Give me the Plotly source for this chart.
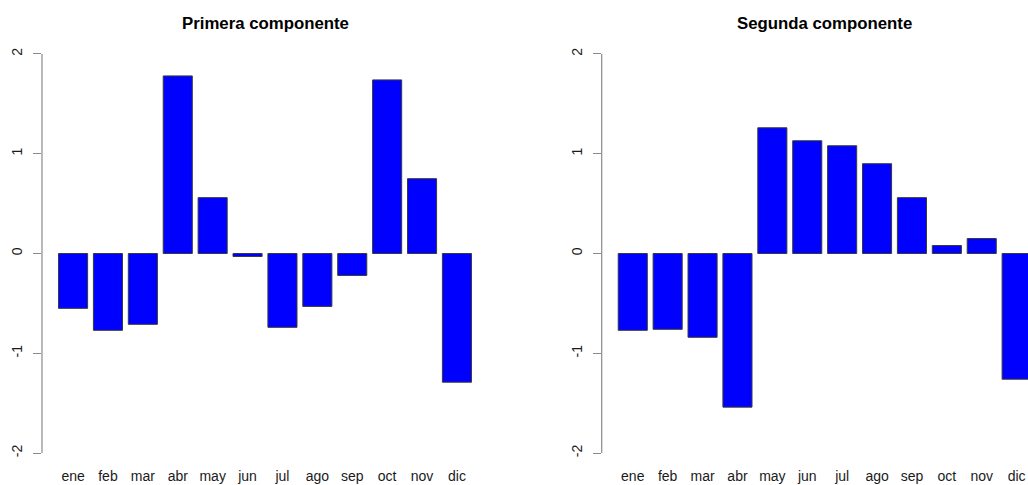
import plotly.graph_objects as go
from plotly.subplots import make_subplots

# Monthly loadings of the first two principal components
meses = ["ene", "feb", "mar", "abr", "may", "jun", "jul", "ago", "sep", "oct", "nov", "dic"]
primera = [-0.55, -0.77, -0.71, 1.78, 0.56, -0.03, -0.74, -0.53, -0.22, 1.74, 0.75, -1.29]
segunda = [-0.77, -0.76, -0.84, -1.54, 1.26, 1.13, 1.08, 0.90, 0.56, 0.08, 0.15, -1.26]
titulos = ["Primera componente", "Segunda componente"]
y_ticks = [-2, -1, 0, 1, 2]

W, H = 1028, 485
BLUE = "#0000FF"
EDGE = "#3a3a3a"
AXIS = "#8a8a8a"
FONT = "Liberation Sans, Arial, Helvetica, sans-serif"

fig = make_subplots(rows=1, cols=2)

for i, vals in enumerate([primera, segunda], start=1):
    fig.add_trace(
        go.Bar(
            x=meses, y=vals,
            marker=dict(color=BLUE, line=dict(color=EDGE, width=1)),
            showlegend=False, hoverinfo="x+y",
        ),
        row=1, col=i,
    )

# plot regions in pixels (left, right)
regions = [(42, 488), (601.7, 1047.7)]
pitch = 446 / (2 * 0.89 + 11)
ydom = [16 / H, 447 / H]

for i, (x0, x1) in enumerate(regions, start=1):
    right_px = min(x1, W)
    lo = -0.89
    hi = 11.89 - (x1 - right_px) / pitch
    xa = dict(
        domain=[x0 / W, right_px / W],
        range=[lo, hi],
        showline=False, showgrid=False, zeroline=False, ticks="",
        tickfont=dict(size=14, color="#1a1a1a", family=FONT),
        ticklabelstandoff=-3,
        fixedrange=True,
    )
    ya = dict(
        domain=ydom,
        range=[-2.16, 2.16],
        tickvals=y_ticks,
        ticktext=[str(v) for v in y_ticks],
        tickangle=-90,
        ticks="outside", ticklen=8, tickwidth=1, tickcolor=AXIS,
        tickfont=dict(size=14, color="#1a1a1a", family=FONT),
        ticklabelstandoff=5,
        showline=False, showgrid=False, zeroline=False,
        fixedrange=True,
    )
    fig.update_xaxes(**xa, row=1, col=i)
    fig.update_yaxes(**ya, row=1, col=i)

    yref = "y" if i == 1 else "y2"
    xdom = "x domain" if i == 1 else "x2 domain"
    # R-style axis line spanning only the tick range
    fig.add_shape(type="line", xref=xdom, yref=yref, x0=0, x1=0, y0=-2, y1=2,
                  line=dict(color=AXIS, width=1.2))
    fig.add_annotation(
        text="<b>%s</b>" % titulos[i - 1], xref="paper", yref="paper",
        x=(x0 + x1) / 2 / W, y=1 - 23 / H, xanchor="center", yanchor="middle",
        showarrow=False, font=dict(size=16.8, color="#000000", family=FONT),
    )

fig.update_layout(
    width=W, height=H,
    margin=dict(l=0, r=0, t=0, b=0, autoexpand=False),
    paper_bgcolor="white", plot_bgcolor="white",
    bargap=0.2 / 1.2,
    font=dict(family=FONT),
)

fig.write_html("out.html", config={"displayModeBar": False})
